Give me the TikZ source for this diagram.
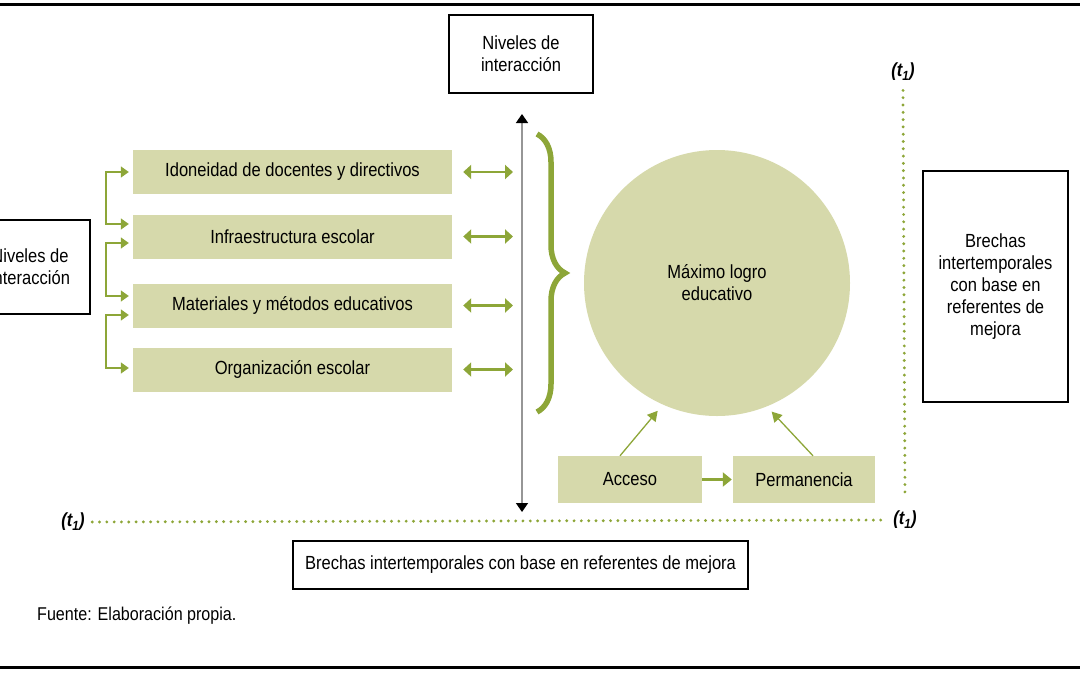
\documentclass[tikz,border=0pt]{standalone}
\usepackage{fontspec}
\setmainfont[FakeStretch=0.87]{Liberation Sans}
\usepackage{tikz}
\usetikzlibrary{positioning, arrows.meta, decorations.pathreplacing, calc}
\definecolor{olivefill}{RGB}{214,217,171}
\definecolor{olivegreen}{RGB}{141,166,56}
\definecolor{axisgray}{RGB}{150,150,150}

\begin{document}
\begin{tikzpicture}[
    x=1pt, y=-1pt,
    font=\fontsize{19}{22}\selectfont,
    factor/.style={fill=olivefill, minimum width=319pt, minimum height=44pt, inner sep=0pt},
    smallbox/.style={fill=olivefill, minimum height=47pt, inner sep=0pt},
    framebox/.style={draw, line width=1.2pt, align=center, inner sep=0pt},
    garrow/.style={draw=olivegreen, line width=2.4pt, -{Triangle[length=9pt,width=14pt]}, color=olivegreen},
    dblarrow/.style={garrow, {Triangle[length=8pt,width=14pt]}-{Triangle[length=8pt,width=14pt]}},
    bracket/.style={draw=olivegreen, line width=1.5pt, {Triangle[length=8pt,width=11pt]}-{Triangle[length=8pt,width=11pt]}, color=olivegreen},
    thinarrow/.style={draw=olivegreen, line width=1.3pt, -{Triangle[length=10pt,width=11pt]}, color=olivegreen},
    timeline/.style={draw=olivegreen, line width=3.2pt, line cap=round, dash pattern=on 0pt off 7.3pt},
    tlabel/.style={font=\fontsize{19}{22}\selectfont\bfseries\itshape}
]
    \useasboundingbox (0,0) rectangle (1080,673);
    \draw[line width=3pt] (0,4) -- (1080,4);
    \draw[line width=3pt] (0,667) -- (1080,667);

    % Levels and factors:
    \node[framebox, minimum width=144pt, minimum height=78pt] (nivtop) at (521,54) {Niveles de\\interacción};
    \node[framebox, minimum width=120pt, minimum height=94pt] (nivleft) at (30,267) {Niveles de\\interacción};
    \node[factor] (idon) at (292.5,172) {Idoneidad de docentes y directivos};
    \node[factor] (infra) at (292.5,236.5) {Infraestructura escolar};
    \node[factor] (mat) at (292.5,305.5) {Materiales y métodos educativos};
    \node[factor] (org) at (292.5,369.5) {Organización escolar};

    % Outcome and its parts:
    \node[circle, fill=olivefill, minimum size=266pt, align=center] (logro) at (717,283) {Máximo logro\\educativo};
    \node[smallbox, minimum width=144pt] (acceso) at (630,479.5) {Acceso};
    \node[smallbox, minimum width=142pt] (perm) at (804,479.5) {Permanencia};

    % Gaps:
    \node[framebox, minimum width=145pt, minimum height=231pt] (brechas) at (995.5,286.5) {Brechas\\intertemporales\\con base en\\referentes de\\mejora};
    \node[framebox, minimum width=455pt, minimum height=48pt] (brechasbot) at (520.5,565) {Brechas intertemporales con base en referentes de mejora};
    \node[anchor=west, inner sep=0pt, font=\fontsize{18.5}{21}\selectfont] (fuente) at (37,616) {Fuente: Elaboración propia.};

    \node[tlabel] (tleft) at (73,522) {(t\textsubscript{1})};
    \node[tlabel] (tright) at (905,520) {(t\textsubscript{1})};
    \node[tlabel] (ttop) at (903,72) {(t\textsubscript{1})};
    \coordinate (axtop) at (522,114);
    \coordinate (axbot) at (522,512);
    \coordinate (vend) at (905,497);

    % Axis and brace:
    \draw[axisgray, line width=1.5pt, {Triangle[length=9pt,width=12pt,color=black]}-{Triangle[length=9pt,width=12pt,color=black]}] (axtop) -- (axbot);
    \draw[olivegreen, line width=5.5pt, decorate, decoration={brace, amplitude=28pt}] (537,134) -- (537,412);

    % Brackets on the left:
    \draw[bracket] ([xshift=-4pt]idon.west) -- ++(-23,0) |- ([xshift=-4pt, yshift=12.5pt]infra.west);
    \draw[bracket] ([xshift=-4pt, yshift=-6.5pt]infra.west) -- ++(-23,0) |- ([xshift=-4pt, yshift=9.5pt]mat.west);
    \draw[bracket] ([xshift=-4pt, yshift=-9.5pt]mat.west) -- ++(-23,0) |- ([xshift=-4pt, yshift=1.5pt]org.west);

    \foreach \f in {idon, infra, mat, org}
        \draw[dblarrow, shorten <=11pt, shorten >=9pt] (\f.east) -- (\f.east -| axtop);

    \path
        (acceso) edge[garrow, shorten >=1pt] (perm)
        ([xshift=-10pt]acceso.north) edge[thinarrow, shorten >=8pt] (logro.246)
        ([xshift=9pt]perm.north) edge[thinarrow, shorten >=7pt] (logro.292);

    % Time lines:
    \draw[timeline] ([xshift=4pt]tleft.east) -- ([xshift=-4pt]tright.west);
    \draw[timeline] ([yshift=-6pt]ttop.south) -- (vend);
\end{tikzpicture}
\end{document}
